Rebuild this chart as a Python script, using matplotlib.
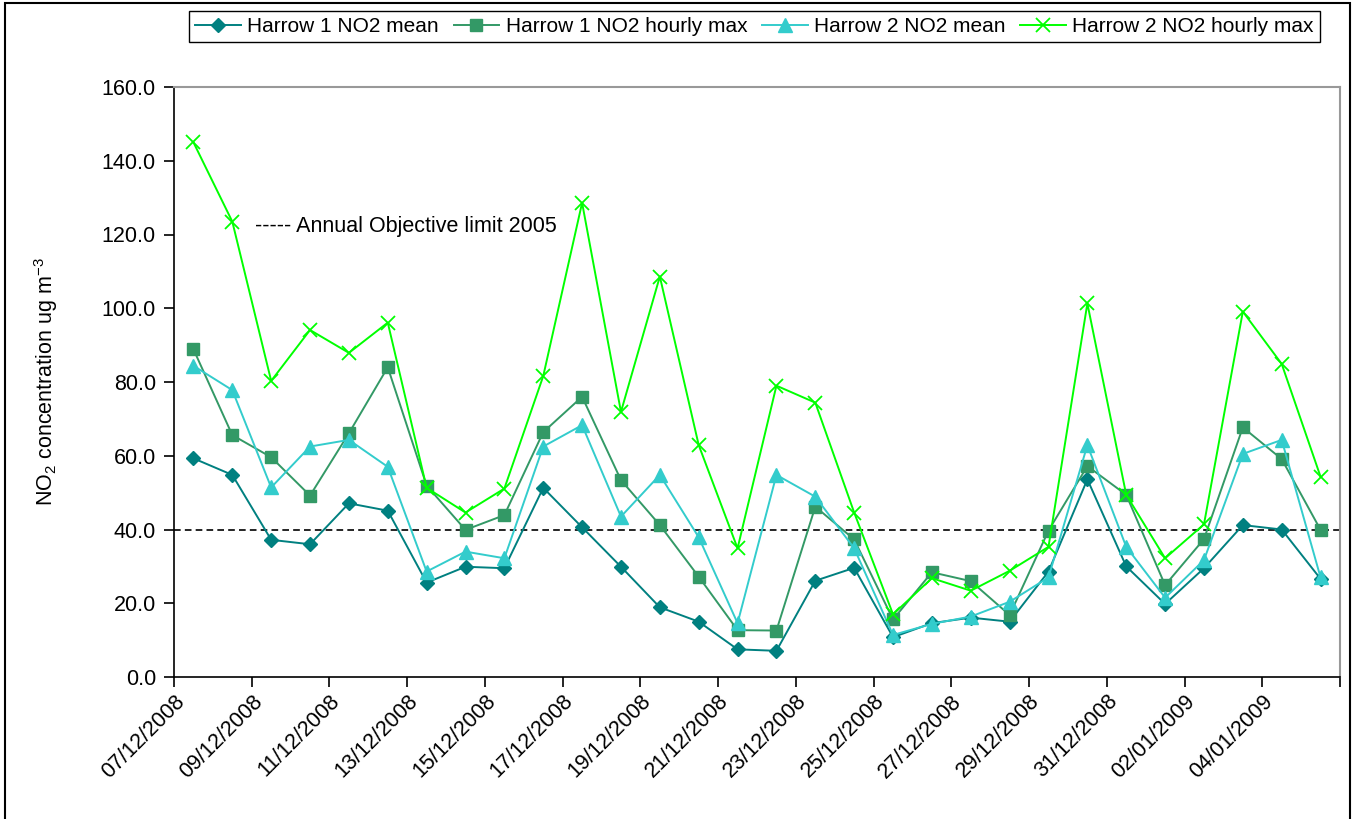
import numpy as np
import pandas as pd
import matplotlib
matplotlib.use("Agg")
import matplotlib.pyplot as plt
from matplotlib.patches import Rectangle

plt.rcParams['font.family'] = ['Liberation Sans', 'DejaVu Sans']
plt.rcParams['mathtext.fontset'] = 'custom'
plt.rcParams['mathtext.rm'] = 'Liberation Sans'
plt.rcParams['mathtext.it'] = 'Liberation Sans'

# daily values, 07/12/2008 - 05/01/2009
dates = pd.date_range('2008-12-07', periods=30, freq='D')

harrow1_mean = [59.3, 54.8, 37.2, 36.0, 47.1, 45.1, 25.6, 29.9, 29.5, 51.3,
                40.6, 29.9, 18.9, 15.0, 7.5, 7.1, 26.1, 29.6, 10.8, 14.6,
                16.1, 15.0, 28.6, 53.6, 30.0, 19.8, 29.5, 41.2, 40.0, 26.6]
harrow1_max = [88.9, 65.6, 59.6, 49.2, 66.1, 84.0, 51.9, 39.9, 43.9, 66.4,
               76.0, 53.4, 41.2, 27.2, 12.7, 12.6, 46.2, 37.3, 15.6, 28.4,
               26.0, 16.8, 39.7, 57.2, 49.4, 24.9, 37.4, 67.7, 59.1, 39.9]
harrow2_mean = [84.4, 77.8, 51.4, 62.5, 64.3, 57.0, 28.6, 34.0, 32.2, 62.5,
                68.3, 43.5, 54.8, 37.9, 14.6, 54.8, 48.9, 34.9, 11.4, 14.4,
                16.4, 20.4, 27.0, 62.9, 35.3, 21.5, 31.7, 60.5, 64.3, 27.0]
harrow2_max = [145.0, 123.5, 80.3, 94.1, 87.9, 96.1, 51.3, 44.6, 51.1, 81.6,
               128.6, 71.9, 108.6, 62.9, 34.9, 79.0, 74.4, 44.6, 17.0, 26.8,
               23.4, 28.8, 35.3, 101.3, 49.4, 32.2, 41.4, 99.1, 84.9, 54.3]

objective_limit = 40.0


def main():
    fig = plt.figure(figsize=(13.52, 8.19), dpi=100)
    ax = fig.add_axes([174 / 1352, 1 - 677 / 819, (1340 - 174) / 1352, (677 - 87) / 819])

    # points sit in the middle of each day
    x = dates + pd.Timedelta(hours=12)

    ax.plot(x, harrow1_mean, color='#008080', marker='D', markersize=7, lw=1.4,
            label='Harrow 1 NO2 mean')
    ax.plot(x, harrow1_max, color='#339966', marker='s', markersize=8, lw=1.4,
            label='Harrow 1 NO2 hourly max')
    ax.plot(x, harrow2_mean, color='#33CCCC', marker='^', markersize=10, lw=1.4,
            label='Harrow 2 NO2 mean')
    ax.plot(x, harrow2_max, color='#00FF00', marker='x', markersize=10, mew=1.3, lw=1.4,
            label='Harrow 2 NO2 hourly max')

    ax.axhline(objective_limit, color='black', ls=(0, (4, 2.5)), lw=1.2, zorder=1)
    ax.text(0.0695, 0.763, '----- Annual Objective limit 2005', transform=ax.transAxes,
            fontsize=15.5, va='center', ha='left')

    ax.set_ylim(0, 160)
    ax.set_yticks(np.arange(0, 161, 20))
    ax.set_yticklabels([f'{v:.1f}' for v in np.arange(0, 161, 20)])

    start = dates[0]
    end = dates[-1] + pd.Timedelta(days=1)
    ax.set_xlim(start, end)
    ticks = pd.date_range(start, end, freq='2D')
    ax.set_xticks(ticks)
    labels = [d.strftime('%d/%m/%Y') for d in ticks]
    labels[-1] = ''
    ax.set_xticklabels(labels, rotation=45, ha='right', rotation_mode='anchor')

    ax.tick_params(axis='both', direction='out', length=7, width=1.2, labelsize=15.5)
    ax.tick_params(axis='x', pad=3)
    ax.tick_params(axis='y', pad=6)
    ax.set_ylabel('NO$_2$ concentration ug m$^{-3}$', fontsize=15.5, labelpad=30)

    for side in ['left', 'bottom']:
        ax.spines[side].set_color('black')
        ax.spines[side].set_linewidth(1.2)
    for side in ['top', 'right']:
        ax.spines[side].set_color('#999999')
        ax.spines[side].set_linewidth(1.5)

    leg = fig.legend(loc='center', bbox_to_anchor=(0.558, 0.9676), ncol=4, fontsize=15,
                     frameon=True, fancybox=False, edgecolor='black', framealpha=1,
                     handlelength=2.2, handletextpad=0.3, columnspacing=0.7,
                     borderpad=0.3)
    leg.get_frame().set_linewidth(1.0)

    # outer chart border
    fig.patches.append(Rectangle((5 / 1352, -0.01), (1350 - 5) / 1352, 1.01 - 3 / 819,
                                 transform=fig.transFigure, fill=False,
                                 edgecolor='black', lw=1.5))

    fig.savefig('out.png', dpi=100)


if __name__ == "__main__":
    main()
